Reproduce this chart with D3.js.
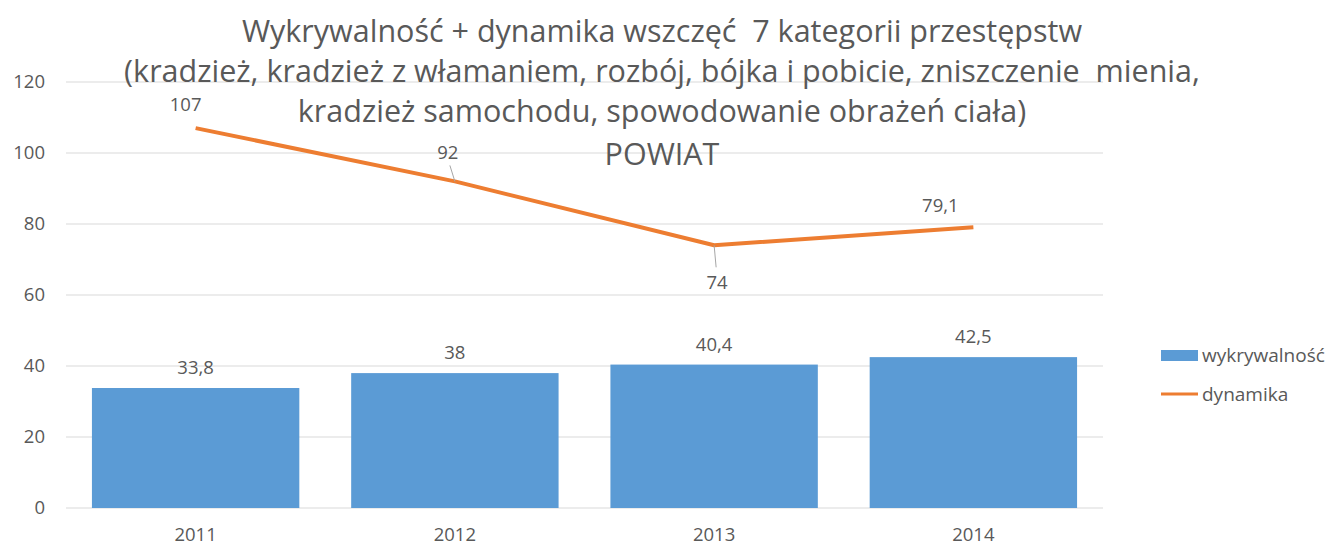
<!DOCTYPE html>
<html><head><meta charset="utf-8">
<script src="https://cdn.jsdelivr.net/npm/d3@7"></script>
<style>
html,body{margin:0;padding:0;background:#fff;}
text{font-family:"Open Sans","Noto Sans",sans-serif;fill:#595959;}
.title{white-space:pre;}
</style></head>
<body><svg id="c" width="1337" height="548"></svg>
<script>
const years = ["2011","2012","2013","2014"];
const wykrywalnosc = [33.8, 38, 40.4, 42.5];
const dynamika = [107, 92, 74, 79.1];
const yTicks = [0,20,40,60,80,100,120];
const seriesNames = ["wykrywalność","dynamika"];
const titleLines = [
  "Wykrywalność + dynamika wszczęć  7 kategorii przestępstw",
  "(kradzież, kradzież z włamaniem, rozbój, bójka i pobicie, zniszczenie  mienia,",
  "kradzież samochodu, spowodowanie obrażeń ciała)",
  "POWIAT"
];
const fmt = v => String(v).replace(".", ",");

const svg = d3.select("#c");
const m = {l:66, r:234};
const W = 1337;
const x = d3.scaleBand().domain(years).range([m.l, W - m.r]).paddingInner(0.2).paddingOuter(0.1);
const y = d3.scaleLinear().domain([0,120]).range([508, 82]);
const FS = "18.5px";

// gridlines
svg.append("g").selectAll("line").data(yTicks).join("line")
  .attr("x1", m.l).attr("x2", W - m.r)
  .attr("y1", d => y(d)).attr("y2", d => y(d))
  .attr("stroke", "#d9d9d9").attr("stroke-width", 1);

// y axis labels
const ya = svg.append("g").attr("transform", `translate(45,0)`)
  .call(d3.axisLeft(y).tickValues(yTicks).tickSize(0).tickPadding(0));
ya.select(".domain").remove();
ya.selectAll("text").style("font-size",FS).attr("fill","#595959");

// x axis labels
const xa = svg.append("g").attr("transform", `translate(0,${y(0)})`)
  .call(d3.axisBottom(x).tickSize(0).tickPadding(20));
xa.select(".domain").remove();
xa.selectAll("text").style("font-size",FS).attr("fill","#595959");

// bars
svg.append("g").selectAll("rect").data(wykrywalnosc).join("rect")
  .attr("x", (d,i) => x(years[i]))
  .attr("width", x.bandwidth())
  .attr("y", d => y(d))
  .attr("height", d => y(0) - y(d))
  .attr("fill", "#5b9bd5");

svg.append("g").selectAll("text").data(wykrywalnosc).join("text")
  .attr("x", (d,i) => x(years[i]) + x.bandwidth()/2)
  .attr("y", d => y(d) - 14)
  .attr("text-anchor","middle").style("font-size",FS)
  .text(d => fmt(d));

// line
const cx = (i) => x(years[i]) + x.bandwidth()/2;
const line = d3.line().x((d,i) => cx(i)).y(d => y(d));
svg.append("path").datum(dynamika).attr("d", line)
  .attr("fill","none").attr("stroke","#ed7d31").attr("stroke-width",4).attr("stroke-linejoin","round");

// line label placement offsets
const lblOff = [[-10,-17],[-7,-22],[3,44],[-33,-15]];
const leaders = [null,[-5,-16],[2,22],null];
const pts = dynamika.map((d,i) => ({d, i}));
svg.append("g").selectAll("line").data(pts.filter(p => leaders[p.i])).join("line")
  .attr("x1",p => cx(p.i)).attr("y1",p => y(p.d))
  .attr("x2",p => cx(p.i) + leaders[p.i][0]).attr("y2",p => y(p.d) + leaders[p.i][1])
  .attr("stroke","#a6a6a6").attr("stroke-width",1);
svg.append("g").selectAll("text").data(pts).join("text")
  .attr("x",p => cx(p.i) + lblOff[p.i][0])
  .attr("y",p => y(p.d) + lblOff[p.i][1])
  .attr("text-anchor","middle").style("font-size",FS)
  .text(p => fmt(p.d));

// title
svg.append("g").selectAll("text").data(titleLines).join("text")
  .attr("class","title")
  .attr("x", 662)
  .attr("y", (d,i) => [42, 82, 122, 165][i])
  .attr("text-anchor","middle").style("font-size","30.5px")
  .text(d => d);

// legend
const lg = svg.append("g");
lg.append("rect").attr("x",1161).attr("y",350).attr("width",37).attr("height",11).attr("fill","#5b9bd5");
lg.append("line").attr("x1",1161).attr("x2",1198).attr("y1",394).attr("y2",394).attr("stroke","#ed7d31").attr("stroke-width",3);
lg.selectAll("text").data(seriesNames).join("text")
  .attr("x",1202).attr("y",(d,i) => [362, 401][i])
  .style("font-size","19px").text(d => d);
</script></body></html>
